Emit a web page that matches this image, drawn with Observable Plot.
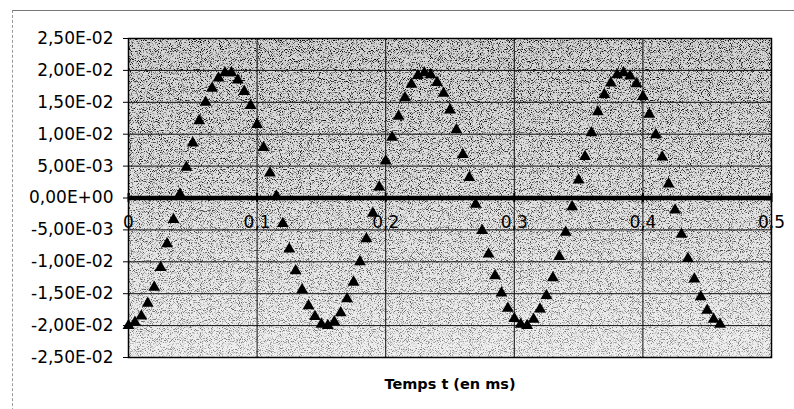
<!DOCTYPE html>
<html><head><meta charset="utf-8">
<script src="https://cdn.jsdelivr.net/npm/d3@7"></script>
<script src="https://cdn.jsdelivr.net/npm/@observablehq/plot@0.6"></script>
<style>
body{margin:0;background:#fff;}
#wrap{position:relative;width:794px;height:409px;overflow:hidden;}
#frame{position:absolute;left:12px;top:10px;width:800px;height:420px;border-top:1px solid #777;border-left:1px dashed #999;}
#chart{position:absolute;left:0;top:0;}
</style></head><body><div id="wrap"><div id="frame"></div><div id="chart"></div></div>
<script>
const times = [0,0.005,0.01,0.015,0.02,0.025,0.03,0.035,0.04,0.045,0.05,0.055,0.06,0.065,0.07,0.075,0.08,0.085,0.09,0.095,
  0.1,0.105,0.11,0.115,0.12,0.125,0.13,0.135,0.14,0.145,0.15,0.155,0.16,0.165,0.17,0.175,0.18,0.185,0.19,0.195,
  0.2,0.205,0.21,0.215,0.22,0.225,0.23,0.235,0.24,0.245,0.25,0.255,0.26,0.265,0.27,0.275,0.28,0.285,0.29,0.295,
  0.3,0.305,0.31,0.315,0.32,0.325,0.33,0.335,0.34,0.345,0.35,0.355,0.36,0.365,0.37,0.375,0.38,0.385,0.39,0.395,
  0.4,0.405,0.41,0.415,0.42,0.425,0.43,0.435,0.44,0.445,0.45,0.455,0.46];
const signal = [-0.0200,-0.0195,-0.0185,-0.0165,-0.0140,-0.0109,-0.0072,-0.0034,0.0006,0.0048,
  0.0086,0.0121,0.0150,0.0172,0.0188,0.0196,0.0196,0.0185,0.0167,0.0145,
  0.0115,0.0079,0.0039,0.0003,-0.0040,-0.0080,-0.0114,-0.0144,-0.0169,-0.0186,
  -0.0198,-0.0200,-0.0194,-0.0180,-0.0158,-0.0132,-0.0100,-0.0064,-0.0024,0.0017,
  0.0058,0.0095,0.0128,0.0157,0.0178,0.0192,0.0196,0.0193,0.0181,0.0164,
  0.0138,0.0107,0.0068,0.0032,-0.0010,-0.0051,-0.0088,-0.0122,-0.0149,-0.0173,
  -0.0189,-0.0198,-0.0200,-0.0190,-0.0174,-0.0153,-0.0125,-0.0092,-0.0054,-0.0014,
  0.0028,0.0065,0.0102,0.0135,0.0162,0.0180,0.0193,0.0196,0.0191,0.0179,
  0.0159,0.0131,0.0099,0.0064,0.0022,-0.0019,-0.0057,-0.0095,-0.0127,-0.0155,
  -0.0176,-0.0190,-0.0198];
const xTicks = [0,0.1,0.2,0.3,0.4,0.5];
const xTickLabels = ["0","0,1","0,2","0,3","0,4","0,5"];
const yTicks = [0.025,0.02,0.015,0.01,0.005,0,-0.005,-0.01,-0.015,-0.02,-0.025];
const yTickLabels = ["2,50E-02","2,00E-02","1,50E-02","1,00E-02","5,00E-03","0,00E+00","-5,00E-03","-1,00E-02","-1,50E-02","-2,00E-02","-2,50E-02"];
const xTitle = "Temps t (en ms)";

const data = times.map((t, i) => ({t, v: signal[i]}));

const plot = Plot.plot({
  width: 794, height: 409,
  marginLeft: 128, marginRight: 23, marginTop: 38, marginBottom: 52,
  style: {fontFamily: "DejaVu Sans", background: "transparent", overflow: "visible", color: "#000"},
  x: {domain: [0, 0.5], axis: null},
  y: {domain: [-0.025, 0.025]},
  marks: [
    Plot.frame({fill: "url(#bgGrad)", stroke: "none"}),
    Plot.frame({fill: "url(#spGrad)", stroke: "none", ariaLabel: "speckle"}),
    Plot.gridY(yTicks, {stroke: "#111", strokeOpacity: 1, strokeWidth: 1}),
    Plot.gridX(xTicks, {stroke: "#111", strokeOpacity: 1, strokeWidth: 1}),
    Plot.axisY({ticks: yTicks, tickFormat: d => yTickLabels[yTicks.indexOf(d)], tickSize: 5, tickPadding: 10, fontSize: 17, label: null}),
    Plot.ruleY([0], {stroke: "#000", strokeWidth: 4.5}),
    Plot.ruleX(xTicks, {y1: -0.0007, y2: 0.0007, stroke: "#000", strokeWidth: 2}),
    Plot.text(xTicks, {x: d => d, y: () => 0, text: d => xTickLabels[xTicks.indexOf(d)], dy: 25, fontSize: 17, fill: "#000"}),
    Plot.dot(data, {x: "t", y: "v", symbol: "triangle", r: 4.4, fill: "#000", stroke: "none"}),
    Plot.frame({stroke: "#000", strokeWidth: 1.5}),
    Plot.text([xTitle], {frameAnchor: "bottom", dy: 31, fontWeight: "bold", fontSize: 14.5, fill: "#000"})
  ]
});

const ns = "http://www.w3.org/2000/svg";
const defs = document.createElementNS(ns, "defs");
defs.innerHTML =
  '<linearGradient id="bgGrad" x1="0" y1="0" x2="0" y2="1"><stop offset="0" stop-color="#d4d4d4"/><stop offset="0.5" stop-color="#e2e2e2"/><stop offset="1" stop-color="#f0f0f0"/></linearGradient>' +
  '<linearGradient id="spGrad" x1="0" y1="0" x2="0" y2="1"><stop offset="0" stop-color="#000" stop-opacity="1"/><stop offset="0.45" stop-color="#000" stop-opacity="0.85"/><stop offset="1" stop-color="#000" stop-opacity="0.45"/></linearGradient>' +
  '<filter id="speckle" x="0" y="0" width="100%" height="100%" color-interpolation-filters="sRGB">' +
  '<feTurbulence type="fractalNoise" baseFrequency="1.1" numOctaves="1" seed="7" result="n"/>' +
  '<feColorMatrix in="n" type="matrix" values="0 0 0 0 0  0 0 0 0 0  0 0 0 0 0  -5 0 0 0 2.45"/>' +
  '<feComposite in2="SourceGraphic" operator="in"/></filter>';
plot.insertBefore(defs, plot.firstChild);
const sp = plot.querySelector('[aria-label="speckle"]');
if (sp) { sp.setAttribute("filter", "url(#speckle)"); }
document.getElementById("chart").appendChild(plot);
</script>
</body></html>
